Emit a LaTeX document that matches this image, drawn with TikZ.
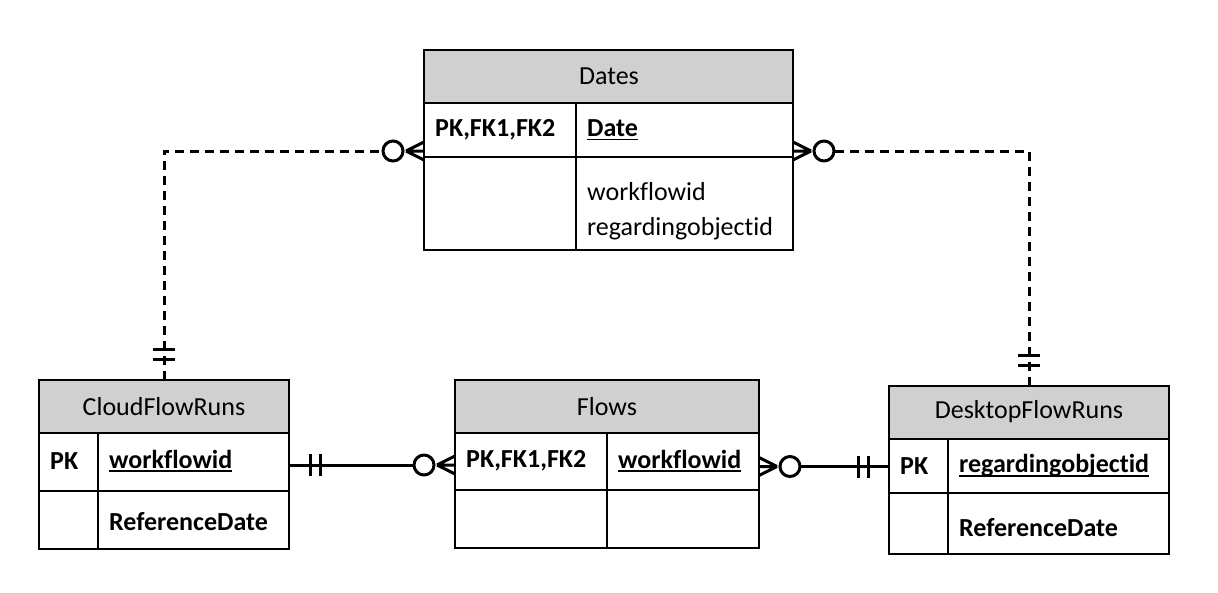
\documentclass[tikz,border=0pt]{standalone}
\usepackage{fontspec}
\setmainfont[Ligatures={NoCommon,NoContextual}]{Carlito}
\usetikzlibrary{calc}
\definecolor{hdr}{RGB}{208,208,208}
\newcommand\ulx[1]{\setbox0\hbox{#1}\rlap{\rule[-4pt]{\wd0}{1.8pt}}\box0}
\begin{document}
\begin{tikzpicture}[x=1pt,y=-1pt,
  cell/.style={draw, line width=1.6pt, anchor=north west, inner sep=0pt, outer sep=0pt},
  head/.style={cell, fill=hdr},
  txt/.style={anchor=west, inner sep=0pt, font=\fontsize{26}{30}\selectfont},
  htxt/.style={inner sep=0pt, font=\fontsize{26}{30}\selectfont},
  btxt/.style={txt, font=\fontsize{26}{30}\selectfont\bfseries},
  rel/.style={line width=3pt},
  dsh/.style={rel, dash pattern=on 9pt off 6pt},
  zeromany/.pic={\draw[rel] (0,-9) -- (18,0) (0,0) -- (18,0) (0,9) -- (18,0);
                 \draw[rel, fill=white] (31,0) circle (10);},
  oneone/.pic={\draw[rel] (21,-11) -- (21,11) (31,-11) -- (31,11);}
]
\useasboundingbox (0,0) rectangle (1218,592);

% Dates
\node[head, minimum width=369pt, minimum height=53pt] (dH) at (424,50) {};
\node[cell, minimum width=369pt, minimum height=54pt] (dR1) at (424,103) {};
\node[cell, minimum width=369pt, minimum height=93pt] (dR2) at (424,157) {};
\draw[line width=1.6pt] ($(dR1.north west)+(152,0)$) -- ($(dR2.south west)+(152,0)$);
\node[htxt] (dT) at (609,76) {Dates};
\node[btxt] (d1) at (435,130) {PK,FK1,FK2};
\node[btxt] (d2) at (587,130) {\ulx{Date}};
\node[txt] (d3) at (587,192) {workflowid};
\node[txt] (d4) at (587,229) {regardingobjectid};

% CloudFlowRuns
\node[head, minimum width=250pt, minimum height=53pt] (cH) at (39,380) {};
\node[cell, minimum width=250pt, minimum height=58pt] (cR1) at (39,433) {};
\node[cell, minimum width=250pt, minimum height=58pt] (cR2) at (39,491) {};
\draw[line width=1.6pt] ($(cR1.north west)+(59,0)$) -- ($(cR2.south west)+(59,0)$);
\node[htxt] (cT) at (164,407) {CloudFlowRuns};
\node[btxt] (c1) at (50,461) {PK};
\node[btxt] (c2) at (109,461) {\ulx{workflowid}};
\node[btxt] (c3) at (109,522) {ReferenceDate};

% Flows
\node[head, minimum width=304pt, minimum height=53pt] (fH) at (455,380) {};
\node[cell, minimum width=304pt, minimum height=57pt] (fR1) at (455,433) {};
\node[cell, minimum width=304pt, minimum height=58pt] (fR2) at (455,490) {};
\draw[line width=1.6pt] ($(fR1.north west)+(152,0)$) -- ($(fR2.south west)+(152,0)$);
\node[htxt] (fT) at (607,407) {Flows};
\node[btxt] (f1) at (466,461) {PK,FK1,FK2};
\node[btxt] (f2) at (618,461) {\ulx{workflowid}};

% DesktopFlowRuns
\node[head, minimum width=280pt, minimum height=53pt] (kH) at (889,386) {};
\node[cell, minimum width=280pt, minimum height=54pt] (kR1) at (889,439) {};
\node[cell, minimum width=280pt, minimum height=61pt] (kR2) at (889,493) {};
\draw[line width=1.6pt] ($(kR1.north west)+(59,0)$) -- ($(kR2.south west)+(59,0)$);
\node[htxt] (kT) at (1029,412) {DesktopFlowRuns};
\node[btxt] (k1) at (900,466) {PK};
\node[btxt] (k2) at (959,466) {\ulx{regardingobjectid}};
\node[btxt] (k3) at (959,528) {ReferenceDate};

% connection points
\coordinate (dl) at ($(dR1.south west)+(0,-6)$);
\coordinate (dr) at ($(dR1.south east)+(0,-6)$);
\coordinate (ca) at ($(cR1.east)+(0,3)$);
\coordinate (fa) at (ca -| fR1.west);
\coordinate (fb) at ($(fR1.east)+(0,5)$);
\coordinate (kb) at (fb -| kR1.west);

% Dates -- CloudFlowRuns
\draw[dsh] (cH.north) |- ($(dl)+(-41,0)$);
\pic[rotate=180] at (dl) {zeromany};
\pic[rotate=90] at (cH.north) {oneone};
% Dates -- DesktopFlowRuns
\draw[dsh] (kH.north) |- ($(dr)+(41,0)$);
\pic at (dr) {zeromany};
\pic[rotate=90] at (kH.north) {oneone};
% CloudFlowRuns -- Flows
\draw[rel] (ca) -- ($(fa)+(-41,0)$);
\pic[rotate=180] at (fa) {zeromany};
\pic at (ca) {oneone};
% Flows -- DesktopFlowRuns
\draw[rel] ($(fb)+(41,0)$) -- (kb);
\pic at (fb) {zeromany};
\pic[rotate=180] at (kb) {oneone};
\end{tikzpicture}
\end{document}
